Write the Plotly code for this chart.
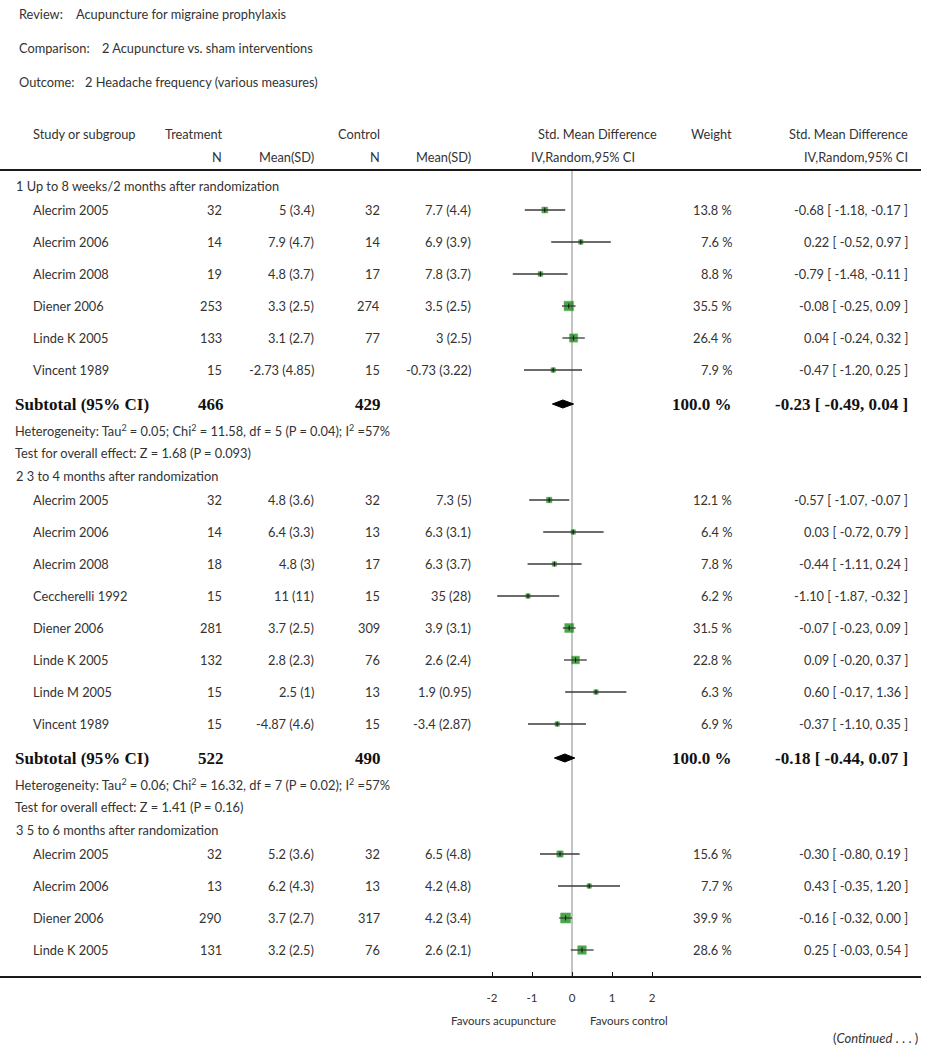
import plotly.graph_objects as go
import math

# ---------------- data ----------------
review = "Acupuncture for migraine prophylaxis"
comparison = "2 Acupuncture vs. sham interventions"
outcome = "2 Headache frequency (various measures)"

subgroup_titles = ["1 Up to 8 weeks/2 months after randomization",
                   "2 3 to 4 months after randomization",
                   "3 5 to 6 months after randomization"]

study = ["Alecrim 2005", "Alecrim 2006", "Alecrim 2008", "Diener 2006", "Linde K 2005", "Vincent 1989",
         "Alecrim 2005", "Alecrim 2006", "Alecrim 2008", "Ceccherelli 1992", "Diener 2006", "Linde K 2005",
         "Linde M 2005", "Vincent 1989",
         "Alecrim 2005", "Alecrim 2006", "Diener 2006", "Linde K 2005"]
group = [0, 0, 0, 0, 0, 0,
         1, 1, 1, 1, 1, 1, 1, 1,
         2, 2, 2, 2]
n_t = [32, 14, 19, 253, 133, 15,
       32, 14, 18, 15, 281, 132, 15, 15,
       32, 13, 290, 131]
mean_t = [5, 7.9, 4.8, 3.3, 3.1, -2.73,
          4.8, 6.4, 4.8, 11, 3.7, 2.8, 2.5, -4.87,
          5.2, 6.2, 3.7, 3.2]
sd_t = [3.4, 4.7, 3.7, 2.5, 2.7, 4.85,
        3.6, 3.3, 3, 11, 2.5, 2.3, 1, 4.6,
        3.6, 4.3, 2.7, 2.5]
n_c = [32, 14, 17, 274, 77, 15,
       32, 13, 17, 15, 309, 76, 13, 15,
       32, 13, 317, 76]
mean_c = [7.7, 6.9, 7.8, 3.5, 3, -0.73,
          7.3, 6.3, 6.3, 35, 3.9, 2.6, 1.9, -3.4,
          6.5, 4.2, 4.2, 2.6]
sd_c = [4.4, 3.9, 3.7, 2.5, 2.5, 3.22,
        5, 3.1, 3.7, 28, 3.1, 2.4, 0.95, 2.87,
        4.8, 4.8, 3.4, 2.1]
weight = [13.8, 7.6, 8.8, 35.5, 26.4, 7.9,
          12.1, 6.4, 7.8, 6.2, 31.5, 22.8, 6.3, 6.9,
          15.6, 7.7, 39.9, 28.6]
smd = [-0.68, 0.22, -0.79, -0.08, 0.04, -0.47,
       -0.57, 0.03, -0.44, -1.10, -0.07, 0.09, 0.60, -0.37,
       -0.30, 0.43, -0.16, 0.25]
ci_lo = [-1.18, -0.52, -1.48, -0.25, -0.24, -1.20,
         -1.07, -0.72, -1.11, -1.87, -0.23, -0.20, -0.17, -1.10,
         -0.80, -0.35, -0.32, -0.03]
ci_hi = [-0.17, 0.97, -0.11, 0.09, 0.32, 0.25,
         -0.07, 0.79, 0.24, -0.32, 0.09, 0.37, 1.36, 0.35,
         0.19, 1.20, 0.00, 0.54]

# subtotals (groups 1 and 2 shown on this page)
sub_n_t = [466, 522]
sub_n_c = [429, 490]
sub_weight = [100.0, 100.0]
sub_smd = [-0.23, -0.18]
sub_lo = [-0.49, -0.44]
sub_hi = [0.04, 0.07]
het_tau2 = ["0.05", "0.06"]
het_chi2 = ["11.58", "16.32"]
het_df = [5, 7]
het_p = ["0.04", "0.02"]
het_i2 = [57, 57]
z_val = ["1.68", "1.41"]
z_p = ["0.093", "0.16"]

axis_ticks = [-2, -1, 0, 1, 2]
axis_labels = ["-2", "-1", "0", "1", "2"]

# ---------------- layout helpers ----------------
W, H = 929, 1050
X_ZERO_PX, PX_PER_UNIT = 572, 40
RIGHT_PX = 921
Y_AXIS_PX = 976
x_range = [-X_ZERO_PX / PX_PER_UNIT, (RIGHT_PX - X_ZERO_PX) / PX_PER_UNIT]

SANS = "Lato"
SERIF = "Liberation Serif"
TXT = "#333333"
FS = 12.8
BFS = 17

annotations = []


def txt(px, py, s, anchor="left", size=FS, family=SANS, color=TXT):
    annotations.append(dict(x=px / W, xref="paper", y=1 - py / H, yref="paper", text=s,
                            showarrow=False, xanchor=anchor, yanchor="middle",
                            font=dict(family=family, size=size, color=color)))


def fmt(v):
    return f"{v:g}"


# top titles
txt(17, 14, "Review:")
txt(74, 14, review)
txt(17, 48, "Comparison:")
txt(100, 48, comparison)
txt(17, 82, "Outcome:")
txt(83, 82, outcome)

# column headers
C_STUDY, C_NT, C_MT, C_NC, C_MC, C_W, C_CI = 31, 224, 316, 382, 473, 734, 910
txt(C_STUDY, 134, "Study or subgroup")
txt(C_NT, 134, "Treatment", "right")
txt(C_NC, 134, "Control", "right")
txt(536, 134, "Std. Mean Difference")
txt(C_W, 134, "Weight", "right")
txt(C_CI, 134, "Std. Mean Difference", "right")
txt(C_NT, 157, "N", "right")
txt(C_MT, 157, "Mean(SD)", "right")
txt(C_NC, 157, "N", "right")
txt(C_MC, 157, "Mean(SD)", "right")
txt(529, 157, "IV,Random,95% CI")
txt(C_CI, 157, "IV,Random,95% CI", "right")

# row positions
study_y = [0.0] * len(study)
sub_y = []
y = 186
for g in range(3):
    txt(14, y, subgroup_titles[g])
    idx = [i for i in range(len(study)) if group[i] == g]
    yy = y + 24
    for k, i in enumerate(idx):
        study_y[i] = yy + 32 * k
    last = yy + 32 * (len(idx) - 1)
    if g < len(sub_n_t):
        sy = last + 34
        sub_y.append(sy)
        y = sy + 72

# study rows text
for i in range(len(study)):
    yy = study_y[i]
    txt(C_STUDY, yy, study[i])
    txt(C_NT, yy, str(n_t[i]), "right")
    txt(C_MT, yy, f"{fmt(mean_t[i])} ({fmt(sd_t[i])})", "right")
    txt(C_NC, yy, str(n_c[i]), "right")
    txt(C_MC, yy, f"{fmt(mean_c[i])} ({fmt(sd_c[i])})", "right")
    txt(C_W, yy, f"{weight[i]:.1f} %", "right")
    txt(C_CI, yy, f"{smd[i]:.2f} [ {ci_lo[i]:.2f}, {ci_hi[i]:.2f} ]", "right")

# subtotal rows text
for g in range(len(sub_n_t)):
    sy = sub_y[g]
    txt(13, sy, "<b>Subtotal (95% CI)</b>", size=BFS, family=SERIF, color="#111")
    txt(C_NT + 2, sy, f"<b>{sub_n_t[g]}</b>", "right", size=BFS, family=SERIF, color="#111")
    txt(C_NC + 1, sy, f"<b>{sub_n_c[g]}</b>", "right", size=BFS, family=SERIF, color="#111")
    txt(C_W, sy, f"<b>{sub_weight[g]:.1f} %</b>", "right", size=BFS, family=SERIF, color="#111")
    txt(C_CI, sy, f"<b>{sub_smd[g]:.2f} [ {sub_lo[g]:.2f}, {sub_hi[g]:.2f} ]</b>", "right",
        size=BFS, family=SERIF, color="#111")
    txt(13, sy + 26, f"Heterogeneity: Tau<sup>2</sup> = {het_tau2[g]}; Chi<sup>2</sup> = {het_chi2[g]}, "
                     f"df = {het_df[g]} (P = {het_p[g]}); I<sup>2</sup> ={het_i2[g]}%")
    txt(13, sy + 49, f"Test for overall effect: Z = {z_val[g]} (P = {z_p[g]})")

# bottom labels
txt(503, 1020, "Favours acupuncture", "center", size=11.5)
txt(629, 1020, "Favours control", "center", size=11.5)
txt(920, 1038, "(<i>Continued</i> . . . )", "right", size=13)

# ---------------- traces ----------------
fig = go.Figure()

# squares
fig.add_trace(go.Scatter(
    x=smd, y=study_y, mode="markers",
    marker=dict(symbol="square", color="#008000",
                size=[max(4.5, 1.6 * math.sqrt(w)) for w in weight],
                line=dict(width=0.5, color="#1a8f1a")),
    hoverinfo="skip", showlegend=False))

# CI lines
cx, cy = [], []
for i in range(len(study)):
    cx += [ci_lo[i], ci_hi[i], None]
    cy += [study_y[i], study_y[i], None]
fig.add_trace(go.Scatter(x=cx, y=cy, mode="lines", line=dict(color="#3a3a3a", width=1.3),
                         hoverinfo="skip", showlegend=False))

# centre ticks
tx, ty = [], []
for i in range(len(study)):
    tx += [smd[i], smd[i], None]
    ty += [study_y[i] - 2.5, study_y[i] + 2.5, None]
fig.add_trace(go.Scatter(x=tx, y=ty, mode="lines", line=dict(color="#111", width=1),
                         hoverinfo="skip", showlegend=False))

# diamonds
for g in range(len(sub_n_t)):
    sy = sub_y[g]
    fig.add_trace(go.Scatter(
        x=[sub_lo[g], sub_smd[g], sub_hi[g], sub_smd[g], sub_lo[g]],
        y=[sy, sy - 4, sy, sy + 4, sy],
        mode="lines", fill="toself", fillcolor="#000", line=dict(color="#000", width=1),
        hoverinfo="skip", showlegend=False))

shapes = [
    # zero line
    dict(type="line", xref="x", yref="y", x0=0, x1=0, y0=170, y1=Y_AXIS_PX,
         line=dict(color="#c4c4c4", width=2), layer="below"),
    # header rule
    dict(type="line", xref="paper", yref="y", x0=0, x1=RIGHT_PX / W, y0=170, y1=170,
         line=dict(color="#1a1a1a", width=2)),
]

fig.update_layout(
    width=W, height=H,
    margin=dict(l=0, r=0, t=0, b=0),
    paper_bgcolor="white", plot_bgcolor="white",
    showlegend=False,
    annotations=annotations,
    shapes=shapes,
    xaxis=dict(range=x_range, domain=[0, RIGHT_PX / W], showgrid=False, zeroline=False,
               showline=True, linecolor="#1a1a1a", linewidth=2,
               tickvals=axis_ticks, ticktext=axis_labels, ticks="inside", ticklen=4,
               tickcolor="#1a1a1a", tickwidth=1,
               tickfont=dict(family=SANS, size=11.5, color=TXT),
               ticklabelstandoff=10, fixedrange=True),
    yaxis=dict(range=[Y_AXIS_PX, 0], domain=[(H - Y_AXIS_PX) / H, 1], visible=False,
               fixedrange=True),
)

fig.write_html("out.html", config={"displayModeBar": False},
               post_script="document.body.style.margin='0';")
